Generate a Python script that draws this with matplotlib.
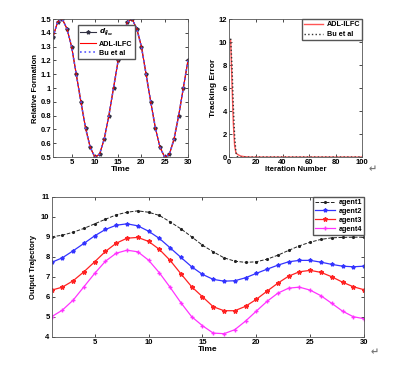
import matplotlib
matplotlib.use("Agg")
import matplotlib.pyplot as plt

plt.rcParams["font.family"] = ["Liberation Sans", "DejaVu Sans"]
plt.rcParams["font.weight"] = "bold"
plt.rcParams["axes.labelweight"] = "bold"

# relative formation (top left)
t = list(range(1, 31))
d_ref = [1.37, 1.48, 1.50, 1.43, 1.30, 1.10, 0.90, 0.71, 0.57, 0.50,
         0.52, 0.63, 0.80, 1.00, 1.20, 1.37, 1.48, 1.50, 1.43, 1.30,
         1.10, 0.90, 0.71, 0.57, 0.50, 0.52, 0.63, 0.80, 1.00, 1.20]
adl_form = d_ref
bu_form = d_ref

# tracking error vs iteration (top right)
iters = list(range(1, 101))
adl_err = [10.2, 6.5, 3.0, 1.0, 0.35, 0.25, 0.18, 0.12, 0.08, 0.06,
           0.04, 0.03, 0.02, 0.01, 0.01] + [0.0] * 85
bu_err = [10.3, 8.0, 4.5, 1.8, 0.4, 0.05, 0.01] + [0.0] * 93

# output trajectories (bottom)
agent1 = [9.00, 9.08, 9.23, 9.42, 9.65, 9.88, 10.10, 10.23, 10.30, 10.23,
          10.07, 9.75, 9.40, 9.00, 8.58, 8.25, 7.95, 7.78, 7.72, 7.75,
          7.88, 8.08, 8.32, 8.55, 8.73, 8.87, 8.95, 8.97, 8.98, 8.98]
agent2 = [7.72, 7.95, 8.30, 8.67, 9.05, 9.37, 9.58, 9.65, 9.55, 9.28,
          8.92, 8.45, 7.97, 7.50, 7.12, 6.87, 6.78, 6.80, 6.95, 7.17,
          7.38, 7.58, 7.75, 7.82, 7.82, 7.73, 7.62, 7.53, 7.50, 7.53]
agent3 = [6.33, 6.48, 6.80, 7.25, 7.75, 8.27, 8.68, 8.93, 8.97, 8.77,
          8.37, 7.82, 7.15, 6.50, 6.00, 5.50, 5.30, 5.30, 5.52, 5.87,
          6.28, 6.68, 7.03, 7.25, 7.32, 7.22, 7.00, 6.73, 6.50, 6.35]
agent4 = [5.00, 5.33, 5.83, 6.50, 7.17, 7.78, 8.18, 8.33, 8.25, 7.83,
          7.20, 6.47, 5.70, 5.00, 4.55, 4.18, 4.15, 4.35, 4.78, 5.28,
          5.77, 6.18, 6.43, 6.48, 6.33, 6.05, 5.67, 5.28, 5.00, 4.90]

FS = 5.5


def style(ax):
    ax.tick_params(direction="in", top=True, right=True, labelsize=FS,
                   length=2, width=0.5, pad=1.5)
    for s in ax.spines.values():
        s.set_linewidth(0.6)
        s.set_color("#555555")


fig = plt.figure(figsize=(3.97, 3.67), dpi=100)

# top left
ax1 = fig.add_axes([0.1335, 0.572, 0.340, 0.376])
ax1.plot(t, d_ref, "-*", color="#333344", lw=0.8, ms=2.8, label=r"$d_{ij_{sc}}$")
ax1.plot(t, adl_form, "-", color="red", lw=0.8, label="ADL-ILFC")
ax1.plot(t, bu_form, ":", color="#5555ff", lw=1.2, label="Bu et al")
ax1.set_xlim(1, 30)
ax1.set_ylim(0.5, 1.5)
ax1.set_xticks([5, 10, 15, 20, 25, 30])
ax1.set_yticks([0.5, 0.6, 0.7, 0.8, 0.9, 1.0, 1.1, 1.2, 1.3, 1.4, 1.5])
ax1.set_yticklabels(["0.5", "0.6", "0.7", "0.8", "0.9", "1", "1.1", "1.2", "1.3", "1.4", "1.5"])
ax1.set_xlabel("Time", fontsize=6, labelpad=0)
ax1.set_ylabel("Relative Formation", fontsize=5.5, labelpad=1)
style(ax1)
ax1.legend(loc="upper left", bbox_to_anchor=(0.16, 0.985), fontsize=5.2,
           fancybox=False, edgecolor="#555555", handlelength=2.2,
           borderpad=0.3, labelspacing=0.3, handletextpad=0.4, framealpha=1)

# top right
ax2 = fig.add_axes([0.5776, 0.572, 0.335, 0.376])
ax2.plot(iters, adl_err, "-", color="#ff5555", lw=1.0, label="ADL-ILFC")
ax2.plot(iters, bu_err, ":", color="#333333", lw=1.0, label="Bu et al")
ax2.set_xlim(0, 100)
ax2.set_ylim(0, 12)
ax2.set_xticks([0, 20, 40, 60, 80, 100])
ax2.set_yticks([0, 2, 4, 6, 8, 10, 12])
ax2.set_xlabel("Iteration Number", fontsize=5.5, labelpad=0)
ax2.set_ylabel("Tracking Error", fontsize=6, labelpad=1)
style(ax2)
ax2.legend(loc="upper right", fontsize=5.2, fancybox=False, edgecolor="#555555",
           handlelength=2.6, borderpad=0.3, labelspacing=0.4,
           handletextpad=0.5, framealpha=1, borderaxespad=0)

# bottom
ax3 = fig.add_axes([0.130, 0.0826, 0.787, 0.381])
ax3.plot(t, agent1, "--.", color="#222222", lw=0.7, ms=2.5, label="agent1")
ax3.plot(t, agent2, "-*", color="#3333ff", lw=0.9, ms=2.8, label="agent2")
ax3.plot(t, agent3, "-*", color="#ff2222", lw=0.9, ms=3.2, label="agent3")
ax3.plot(t, agent4, "-+", color="#ff33ff", lw=0.9, ms=2.2, label="agent4")
ax3.set_xlim(1, 30)
ax3.set_ylim(4, 11)
ax3.set_xticks([5, 10, 15, 20, 25, 30])
ax3.set_yticks([4, 5, 6, 7, 8, 9, 10, 11])
ax3.set_xlabel("Time", fontsize=6, labelpad=0)
ax3.set_ylabel("Output Trajectory", fontsize=5.5, labelpad=3)
style(ax3)
ax3.legend(loc="upper right", fontsize=5.2, fancybox=False, edgecolor="#555555",
           handlelength=2.8, borderpad=0.3, labelspacing=0.25,
           handletextpad=0.4, framealpha=1, borderaxespad=0)

# paragraph marks from the source document
fig.text(373 / 397, 1 - 169 / 367, "\u21b5", fontsize=7, color="#777777",
         ha="center", va="center", family="DejaVu Sans")
fig.text(375 / 397, 1 - 352 / 367, "\u21b5", fontsize=7, color="#777777",
         ha="center", va="center", family="DejaVu Sans")

fig.savefig("out.png", dpi=100)
